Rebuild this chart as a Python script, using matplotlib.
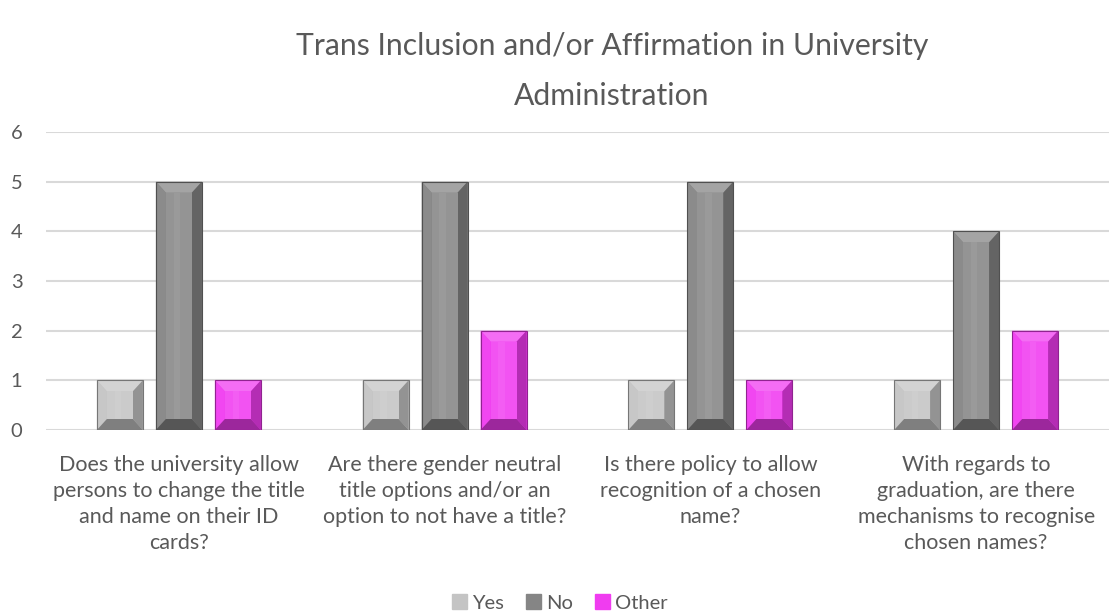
import numpy as np
import matplotlib.pyplot as plt
from matplotlib.patches import Polygon, Patch

plt.rcParams['font.family'] = ['Lato', 'DejaVu Sans']

questions = [
    "Does the university allow\npersons to change the title\nand name on their ID\ncards?",
    "Are there gender neutral\ntitle options and/or an\noption to not have a title?",
    "Is there policy to allow\nrecognition of a chosen\nname?",
    "With regards to\ngraduation, are there\nmechanisms to recognise\nchosen names?",
]
yes = [1, 1, 1, 1]
no = [5, 5, 5, 4]
other = [1, 2, 1, 2]

series = [
    ("Yes", yes, "#c4c4c4"),
    ("No", no, "#858585"),
    ("Other", other, "#f03cf0"),
]

text_col = "#595959"


def shade(c, f):
    c = np.array(plt.matplotlib.colors.to_rgb(c))
    if f > 0:
        return tuple(c + (1 - c) * f)
    return tuple(c * (1 + f))


fig = plt.figure(figsize=(11.09, 6.15), dpi=100)
ax = fig.add_axes([46 / 1109, 185 / 615, 1063 / 1109, 298 / 615])
ax.set_xlim(-0.5, 3.5)
ax.set_ylim(0, 6)

x = np.arange(len(questions))
w = 0.173
offsets = [-0.222, 0, 0.222]

# bevelled bars: plain bar underneath, four shaded edges on top
px_x = ax.transData.transform((1, 0))[0] - ax.transData.transform((0, 0))[0]
px_y = ax.transData.transform((0, 1))[1] - ax.transData.transform((0, 0))[1]
for (name, vals, col), off in zip(series, offsets):
    bars = ax.bar(x + off, vals, w, color=col, zorder=3, label=name)
    for b in bars:
        x0, y0 = b.get_x(), b.get_y()
        x1, y1 = x0 + b.get_width(), y0 + b.get_height()
        dx, dy = 10 / px_x, 11 / px_y
        ix0, ix1, iy0, iy1 = x0 + dx, x1 - dx, y0 + dy, y1 - dy
        faces = [
            ([(x0, y1), (x1, y1), (ix1, iy1), (ix0, iy1)], 0.25),
            ([(x0, y0), (x0, y1), (ix0, iy1), (ix0, iy0)], 0.05),
            ([(x1, y0), (x1, y1), (ix1, iy1), (ix1, iy0)], -0.25),
            ([(x0, y0), (x1, y0), (ix1, iy0), (ix0, iy0)], -0.35),
        ]
        for pts, f in faces:
            ax.add_patch(Polygon(pts, closed=True, color=shade(col, f), lw=0, zorder=4))
        ax.add_patch(Polygon([(ix0, iy0), (ix1, iy0), (ix1, iy1), (ix0, iy1)],
                             closed=True, color=shade(col, 0.12), lw=0, zorder=4))
        # soft highlight running down the face
        hx = ix0 + (ix1 - ix0) * 0.3
        ax.add_patch(Polygon([(hx, iy0), (hx + (ix1 - ix0) * 0.25, iy0),
                              (hx + (ix1 - ix0) * 0.25, iy1), (hx, iy1)],
                             closed=True, color=shade(col, 0.17), lw=0, zorder=4))
        ax.add_patch(Polygon([(x0, y0), (x1, y0), (x1, y1), (x0, y1)], closed=True,
                             fill=False, ec=shade(col, -0.4), lw=0.8, zorder=5))

ax.set_yticks(range(7))
ax.grid(axis='y', color="#d9d9d9", lw=1.5, zorder=0)
for s in ax.spines.values():
    s.set_visible(False)
ax.set_xticks(x)
ax.set_xticklabels(questions, fontsize=15.5, color=text_col, linespacing=1.38)
ax.tick_params(axis='x', length=0, pad=18)
ax.tick_params(axis='y', length=0, labelsize=14.5, labelcolor=text_col, pad=17)

fig.text(612 / 1109, 1 - 71 / 615,
         "Trans Inclusion and/or Affirmation in University\nAdministration",
         ha='center', va='center', fontsize=21.7, color=text_col, linespacing=1.95)

handles = [Patch(color=shade(c, 0), label=n) for n, _, c in series]
fig.legend(handles=handles, loc='center', bbox_to_anchor=(0.505, 1 - 603 / 615),
           ncol=3, frameon=False, fontsize=14.5, handlelength=0.75, handleheight=0.75,
           handletextpad=0.25, columnspacing=1.1, labelcolor=text_col)

fig.savefig("out.png", dpi=100)
